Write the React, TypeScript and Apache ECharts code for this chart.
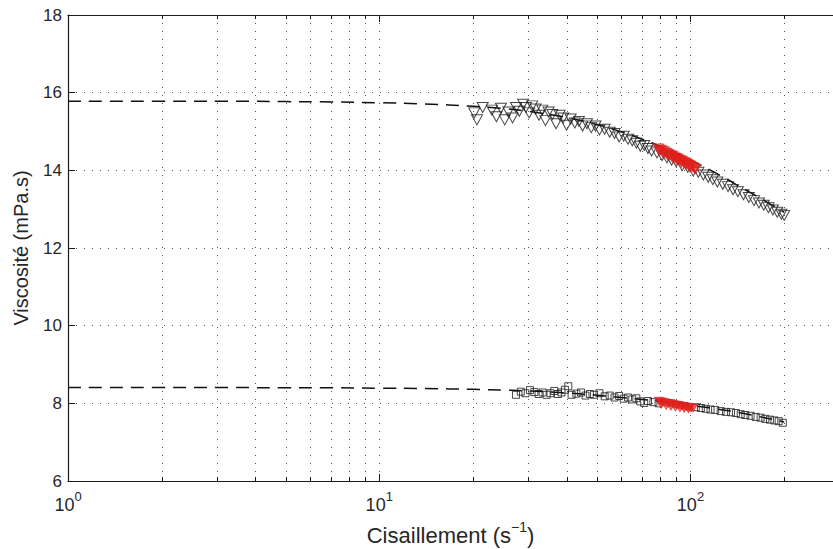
import React, { useEffect, useRef } from "react";
import * as echarts from "echarts";

// ---- data ----
const X_MIN = 1;
const X_MAX = 287;
const Y_MIN = 6;
const Y_MAX = 18;
const Y_INTERVAL = 2;

const gridX = [2, 3, 4, 5, 6, 7, 8, 9, 10, 20, 30, 40, 50, 60, 70, 80, 90, 100, 200];
const majorX = [1, 10, 100];

const fitX = [1, 2, 3, 5, 7, 10, 14, 20, 25, 30, 40, 50, 60, 70, 80, 90, 100, 120, 150, 200];
const fitUpper = [15.78, 15.78, 15.78, 15.77, 15.76, 15.74, 15.71, 15.65, 15.59, 15.52, 15.36, 15.18, 14.99, 14.8, 14.62, 14.44, 14.26, 13.94, 13.5, 12.92];
const fitLower = [8.41, 8.41, 8.41, 8.4, 8.4, 8.39, 8.38, 8.36, 8.34, 8.32, 8.27, 8.21, 8.15, 8.1, 8.05, 8.0, 7.95, 7.86, 7.73, 7.52];

const upperX = [20.2, 20.6, 21.5, 23.0, 23.8, 24.6, 25.3, 26.0, 26.8, 27.5, 28.2, 29.0, 29.6, 30.3, 31.0, 31.8, 32.6, 33.4, 34.2, 35.0, 36.0, 37.0, 38.0, 39.0, 40.0, 41.2, 42.5, 43.8, 45.0, 46.5, 48.0, 49.5, 51, 53, 55, 57, 59, 61, 63, 65, 67, 69, 71, 73, 75, 78, 81, 84, 87, 90, 94, 98, 102, 106, 110, 114, 118, 122, 127, 132, 137, 142, 148, 154, 160, 166, 172, 178, 184, 190, 196, 200];
const upperY = [15.48, 15.3, 15.62, 15.55, 15.38, 15.6, 15.3, 15.5, 15.35, 15.62, 15.52, 15.7, 15.62, 15.48, 15.66, 15.58, 15.42, 15.55, 15.28, 15.5, 15.44, 15.2, 15.42, 15.35, 15.16, 15.32, 15.22, 15.26, 15.14, 15.2, 15.1, 15.14, 15.04, 15.06, 14.98, 14.95, 14.86, 14.88, 14.8, 14.76, 14.7, 14.62, 14.64, 14.56, 14.5, 14.45, 14.38, 14.32, 14.26, 14.22, 14.12, 14.08, 13.98, 13.95, 13.88, 13.82, 13.76, 13.7, 13.64, 13.58, 13.5, 13.45, 13.37, 13.3, 13.22, 13.16, 13.1, 13.04, 12.98, 12.92, 12.87, 12.84];

const upperRedX = [79, 79.5, 80, 81, 81.5, 82, 83, 84, 84.5, 85, 86, 87, 87.5, 88, 89, 90, 90.5, 91, 92, 93, 93.5, 94, 95, 96, 96.5, 97, 98, 99, 99.5, 100, 101, 102, 103, 104];
const upperRedY = [14.56, 14.49, 14.53, 14.51, 14.45, 14.49, 14.46, 14.44, 14.38, 14.42, 14.39, 14.38, 14.32, 14.36, 14.33, 14.32, 14.26, 14.3, 14.27, 14.26, 14.2, 14.24, 14.21, 14.2, 14.14, 14.18, 14.16, 14.14, 14.08, 14.12, 14.09, 14.08, 14.05, 14.03];

const lowerX = [27.5, 28.5, 29.5, 30.5, 31.5, 32.5, 33.5, 34.5, 35.5, 36.5, 37.5, 38.5, 39.5, 40.5, 41.5, 43, 44.5, 46, 47.5, 49, 51, 53, 55, 57, 59, 61, 63, 65, 67, 69, 71, 73, 76, 79, 104, 108, 112, 116, 120, 125, 130, 135, 140, 145, 150, 156, 162, 168, 174, 180, 186, 192, 198];
const lowerY = [8.22, 8.3, 8.26, 8.34, 8.29, 8.24, 8.28, 8.22, 8.26, 8.32, 8.24, 8.28, 8.35, 8.44, 8.22, 8.25, 8.28, 8.2, 8.24, 8.22, 8.26, 8.18, 8.2, 8.15, 8.19, 8.12, 8.15, 8.1, 8.13, 8.05, 8.01, 8.06, 8.03, 8.0, 7.9, 7.88, 7.86, 7.84, 7.83, 7.8, 7.78, 7.77, 7.75, 7.72, 7.7, 7.68, 7.65, 7.63, 7.6, 7.58, 7.56, 7.54, 7.5];

const lowerRedX = [79, 80, 80.5, 81, 82, 83, 83.5, 84, 85, 86, 86.5, 87, 88, 89, 89.5, 90, 91, 92, 92.5, 93, 94, 95, 95.5, 96, 97, 98, 98.5, 99, 100, 101, 102];
const lowerRedY = [8.07, 8.05, 7.97, 8.04, 8.03, 8.02, 7.94, 8.01, 8.0, 8.0, 7.92, 7.99, 7.98, 7.97, 7.9, 7.96, 7.96, 7.95, 7.88, 7.94, 7.93, 7.93, 7.86, 7.92, 7.91, 7.9, 7.85, 7.9, 7.89, 7.88, 7.88];

const xName = "Cisaillement (s";
const yName = "Viscosité (mPa.s)";

const zip = (xs: number[], ys: number[]) => xs.map((x, i) => [x, ys[i]]);

const TEXT = "#262626";
const FONT = "Liberation Sans, Arial, Helvetica, sans-serif";
const RED = "#e0201c";

export default function App() {
  const ref = useRef<HTMLDivElement>(null);
  useEffect(() => {
    if (!ref.current) return;
    const chart = echarts.init(ref.current, undefined, { renderer: "svg" });
    const option: any = {
      animation: false,
      backgroundColor: "#fff",
      textStyle: { fontFamily: FONT },
      grid: { left: 68, right: 0, top: 15, bottom: 68, containLabel: false, outerBoundsMode: "none" },
      xAxis: [
        {
          type: "log",
          logBase: 10,
          min: X_MIN,
          max: X_MAX,
          position: "bottom",
          axisLine: { show: true, lineStyle: { color: "#1a1a1a", width: 1.2 } },
          axisTick: { show: false },
          splitLine: { show: false },
          minorTick: { show: false },
          axisLabel: {
            show: true,
            margin: 9,
            showMaxLabel: false,
            formatter: (v: number) => {
              const l = Math.log10(v);
              const e = Math.round(l);
              if (Math.abs(l - e) > 1e-6) return "";
              return `{b|10}{s|${e}}`;
            },
            rich: {
              b: { fontSize: 18, color: TEXT, fontFamily: FONT, lineHeight: 30 },
              s: { fontSize: 13, color: TEXT, fontFamily: FONT, lineHeight: 13, verticalAlign: "top" },
            },
          },
          name: `{a|${xName}}{s|−1}{a|)}`,
          nameLocation: "middle",
          nameGap: 39,
          nameTextStyle: {
            rich: {
              a: { fontSize: 22, color: TEXT, fontFamily: FONT, lineHeight: 30 },
              s: { fontSize: 14, color: TEXT, fontFamily: FONT, lineHeight: 14, verticalAlign: "top" },
            },
          },
        },
        {
          type: "log",
          logBase: 10,
          min: X_MIN,
          max: X_MAX,
          position: "top",
          axisLine: { show: true, lineStyle: { color: "#1a1a1a", width: 1.2 } },
          axisTick: { show: false },
          axisLabel: { show: false },
          splitLine: { show: false },
        },
      ],
      yAxis: {
        type: "value",
        min: Y_MIN,
        max: Y_MAX,
        interval: Y_INTERVAL,
        axisLine: { show: true, lineStyle: { color: "#1a1a1a", width: 1.2 } },
        axisTick: { show: true, inside: true, length: 7, lineStyle: { color: "#1a1a1a" } },
        axisLabel: { fontSize: 17, color: TEXT, fontFamily: FONT, margin: 6 },
        splitLine: { show: true, lineStyle: { color: "#555", width: 1, type: [1, 7] } },
        name: yName,
        nameLocation: "middle",
        nameGap: 37,
        nameTextStyle: { fontSize: 20, color: TEXT, fontFamily: FONT },
      },
      series: [
        {
          type: "custom",
          xAxisIndex: 0,
          yAxisIndex: 0,
          silent: true,
          z: 1,
          data: gridX.map((v) => [v, Y_MIN]),
          renderItem: (params: any, api: any) => {
            const cs = params.coordSys;
            const v = api.value(0);
            const x = Math.round(api.coord([v, Y_MIN])[0]) + 0.5;
            const major = majorX.indexOf(v) >= 0;
            const len = major ? 7 : 4;
            return {
              type: "group",
              children: [
                {
                  type: "line",
                  shape: { x1: x, y1: cs.y, x2: x, y2: cs.y + cs.height },
                  style: { stroke: "#555", lineWidth: 1, lineDash: [1, 7] },
                },
                {
                  type: "line",
                  shape: { x1: x, y1: cs.y + cs.height, x2: x, y2: cs.y + cs.height - len },
                  style: { stroke: "#1a1a1a", lineWidth: 1 },
                },
                {
                  type: "line",
                  shape: { x1: x, y1: cs.y, x2: x, y2: cs.y + len },
                  style: { stroke: "#1a1a1a", lineWidth: 1 },
                },
              ],
            };
          },
        },
        {
          type: "line",
          data: zip(fitX, fitUpper),
          showSymbol: false,
          smooth: true,
          z: 3,
          lineStyle: { color: "#111", width: 1.5, type: [13, 8] },
        },
        {
          type: "line",
          data: zip(fitX, fitLower),
          showSymbol: false,
          smooth: true,
          z: 3,
          lineStyle: { color: "#111", width: 1.5, type: [13, 8] },
        },
        {
          type: "scatter",
          data: zip(upperX, upperY),
          symbol: "triangle",
          symbolRotate: 180,
          symbolSize: [11, 10],
          z: 4,
          itemStyle: { color: "rgba(0,0,0,0)", borderColor: "#1a1a1a", borderWidth: 1 },
        },
        {
          type: "scatter",
          data: zip(lowerX, lowerY),
          symbol: "rect",
          symbolSize: 7,
          z: 4,
          itemStyle: { color: "rgba(0,0,0,0)", borderColor: "#1a1a1a", borderWidth: 1 },
        },
        {
          type: "scatter",
          data: zip(upperRedX, upperRedY),
          symbol: "triangle",
          symbolRotate: 180,
          symbolSize: [10, 9],
          z: 5,
          itemStyle: { color: "rgba(224,32,28,0.35)", borderColor: RED, borderWidth: 1 },
        },
        {
          type: "scatter",
          data: zip(lowerRedX, lowerRedY),
          symbol: "triangle",
          symbolRotate: 180,
          symbolSize: [8, 7],
          z: 5,
          itemStyle: { color: "rgba(224,32,28,0.35)", borderColor: RED, borderWidth: 1 },
        },
      ],
    };
    chart.setOption(option);
    return () => chart.dispose();
  }, []);
  return (
    <div
      ref={ref}
      style={{ position: "fixed", left: 0, top: 0, width: 833, height: 549, background: "#fff" }}
    />
  );
}
